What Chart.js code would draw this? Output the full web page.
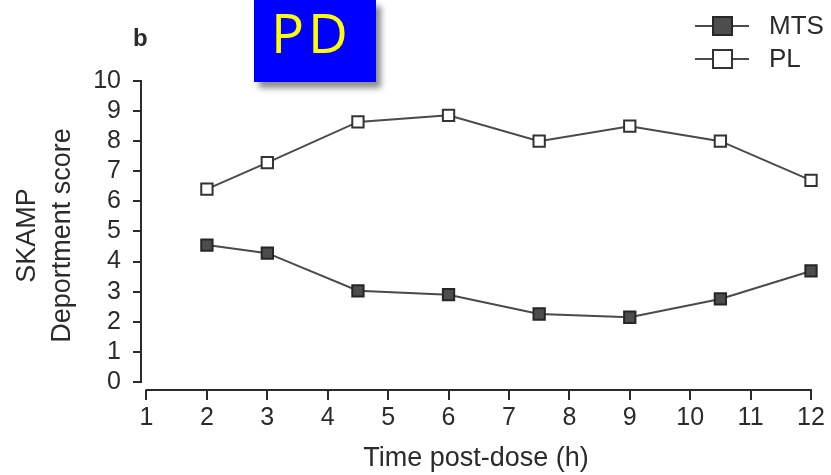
<!DOCTYPE html>
<html>
<head>
<meta charset="utf-8">
<title>SKAMP deportment score</title>
<script src="https://cdn.jsdelivr.net/npm/chart.js@4.4.1/dist/chart.umd.min.js"></script>
<style>
    html, body { margin: 0; padding: 0; background: #fff; }
    #wrap { position: relative; width: 831px; height: 475px; overflow: hidden; }
    #pdBadge {
        position: absolute;
        left: 254px;
        top: 0;
        width: 105px;
        height: 82px;
        padding-left: 17px;
        background: #0000ff;
        box-shadow: 5px 6px 6px rgba(0, 0, 0, 0.45);
        color: #ffff00;
        font-family: 'Open Sans', sans-serif;
        font-size: 55px;
        line-height: 64px;
        letter-spacing: 4px;
    }
</style>
</head>
<body>
<div id="wrap">
    <canvas id="skampChart" width="831" height="475"></canvas>
    <div id="pdBadge">PD</div>
</div>
<script>
// hours after dose and mean scores per arm
const timePoints = [2, 3, 4.5, 6, 7.5, 9, 10.5, 12];
const mtsScores = [4.55, 4.28, 3.03, 2.90, 2.26, 2.15, 2.76, 3.69];
const plScores = [6.41, 7.29, 8.64, 8.86, 8.00, 8.50, 8.00, 6.70];
const seriesNames = ['MTS', 'PL'];

const xTickValues = [1, 2, 3, 4, 5, 6, 7, 8, 9, 10, 11, 12];
const yTickValues = [0, 1, 2, 3, 4, 5, 6, 7, 8, 9, 10];

const FONT = "'Liberation Sans', Arial, sans-serif";
const INK = '#2b2b2b';

function toPoints(values) {
    return timePoints.map((t, i) => ({ x: t, y: values[i] }));
}

// axis lines stop at the first/last tick, like a journal figure
const detachedAxes = {
    id: 'detachedAxes',
    beforeDatasetsDraw(chart) {
        const { ctx, chartArea, scales: { x, y } } = chart;
        ctx.save();
        ctx.strokeStyle = INK;
        ctx.lineWidth = 2;
        ctx.beginPath();
        ctx.moveTo(chartArea.left, y.getPixelForValue(yTickValues[0]) + 1);
        ctx.lineTo(chartArea.left, y.getPixelForValue(yTickValues[yTickValues.length - 1]) - 1);
        ctx.moveTo(x.getPixelForValue(xTickValues[0]) - 1, chartArea.bottom);
        ctx.lineTo(x.getPixelForValue(xTickValues[xTickValues.length - 1]) + 1, chartArea.bottom);
        ctx.stroke();
        ctx.restore();
    }
};

// panel letter and the line+marker legend in the top right corner
const panelDecor = {
    id: 'panelDecor',
    afterDraw(chart) {
        const { ctx } = chart;
        ctx.save();

        ctx.fillStyle = INK;
        ctx.font = 'bold 24px ' + FONT;
        ctx.textBaseline = 'alphabetic';
        ctx.fillText('b', 133, 46);

        const rows = [26, 59];
        chart.data.datasets.forEach((ds, i) => {
            const cy = rows[i];
            ctx.strokeStyle = ds.borderColor;
            ctx.lineWidth = 2;
            ctx.beginPath();
            ctx.moveTo(695, cy);
            ctx.lineTo(749, cy);
            ctx.stroke();

            ctx.fillStyle = ds.pointBackgroundColor;
            ctx.strokeStyle = ds.pointBorderColor;
            ctx.lineWidth = 2;
            ctx.beginPath();
            ctx.rect(713, cy - 9, 19, 18);
            ctx.fill();
            ctx.stroke();

            ctx.fillStyle = INK;
            ctx.font = '26px ' + FONT;
            ctx.textBaseline = 'middle';
            ctx.fillText(ds.label, 769, cy + 1);
        });
        ctx.restore();
    }
};

const ctx = document.getElementById('skampChart').getContext('2d');

const skampChart = new Chart(ctx, {
    type: 'line',
    data: {
        datasets: [
            {
                label: seriesNames[0],
                data: toPoints(mtsScores),
                borderColor: '#4a4a4a',
                borderWidth: 2,
                pointStyle: 'rect',
                pointRadius: 8,
                pointBorderWidth: 2,
                pointBackgroundColor: '#4d4d4d',
                pointBorderColor: '#262626',
                tension: 0,
                clip: false
            },
            {
                label: seriesNames[1],
                data: toPoints(plScores),
                borderColor: '#4a4a4a',
                borderWidth: 2,
                pointStyle: 'rect',
                pointRadius: 8,
                pointBorderWidth: 2,
                pointBackgroundColor: '#ffffff',
                pointBorderColor: '#333333',
                tension: 0,
                clip: false
            }
        ]
    },
    options: {
        responsive: false,
        animation: false,
        layout: {
            padding: { top: 81, right: 20, left: 0, bottom: 0 }
        },
        plugins: {
            legend: { display: false },
            tooltip: { enabled: false }
        },
        scales: {
            x: {
                type: 'linear',
                min: 0.909,
                max: 12,
                afterFit: (scale) => { scale.height = 85; },
                afterBuildTicks: (scale) => { scale.ticks = xTickValues.map(v => ({ value: v })); },
                border: { display: false },
                grid: {
                    drawOnChartArea: false,
                    drawTicks: true,
                    tickLength: 10,
                    color: INK,
                    lineWidth: 2
                },
                ticks: {
                    color: INK,
                    padding: 3,
                    autoSkip: false,
                    maxRotation: 0,
                    font: { family: FONT, size: 25 }
                },
                title: {
                    display: true,
                    text: 'Time post-dose (h)',
                    color: INK,
                    padding: { top: 0, bottom: 0 },
                    font: { family: FONT, size: 27 }
                }
            },
            y: {
                min: -0.266,
                max: 10,
                afterFit: (scale) => { scale.width = 141; },
                afterBuildTicks: (scale) => { scale.ticks = yTickValues.map(v => ({ value: v })); },
                border: { display: false },
                grid: {
                    drawOnChartArea: false,
                    drawTicks: true,
                    tickLength: 8,
                    color: INK,
                    lineWidth: 2
                },
                ticks: {
                    color: INK,
                    padding: 12,
                    autoSkip: false,
                    font: { family: FONT, size: 25 }
                },
                title: {
                    display: true,
                    text: ['SKAMP', 'Deportment score'],
                    color: INK,
                    padding: { top: 10, bottom: 0 },
                    font: { family: FONT, size: 27, lineHeight: 1.3 }
                }
            }
        }
    },
    plugins: [detachedAxes, panelDecor]
});
</script>
</body>
</html>
